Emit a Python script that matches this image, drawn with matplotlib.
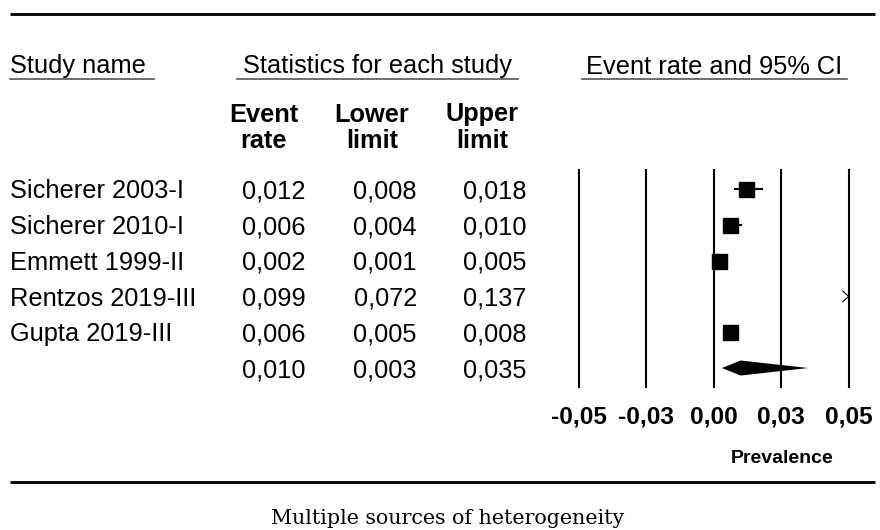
import matplotlib
matplotlib.use("Agg")
import matplotlib.pyplot as plt

# study rows
studies = ["Sicherer 2003-I", "Sicherer 2010-I", "Emmett 1999-II",
           "Rentzos 2019-III", "Gupta 2019-III"]
event_rate = [0.012, 0.006, 0.002, 0.099, 0.006]
lower = [0.008, 0.004, 0.001, 0.072, 0.005]
upper = [0.018, 0.010, 0.005, 0.137, 0.008]

# pooled estimate
pooled = [0.010, 0.003, 0.035]

xticks = [-0.05, -0.025, 0.0, 0.025, 0.05]
xlabels = ["-0,05", "-0,03", "0,00", "0,03", "0,05"]


def fmt(v):
    return ("%.3f" % v).replace(".", ",")


W, H = 880, 530
fig = plt.figure(figsize=(W / 100, H / 100), dpi=100)
plt.rcParams["font.family"] = ["Liberation Sans", "DejaVu Sans"]

# overlay in pixel units for the table and rules
bg = fig.add_axes([0, 0, 1, 1])
bg.set_xlim(0, W)
bg.set_ylim(H, 0)
bg.axis("off")

# rules
bg.plot([10, 875], [13.5, 13.5], color="black", lw=2, solid_capstyle="butt")
bg.plot([10, 875], [482, 482], color="black", lw=2, solid_capstyle="butt")

# column headers with underlines
fs = 18.3
bg.text(10, 73.5, "Study name", fontsize=fs, va="baseline", ha="left")
bg.text(243, 73.5, "Statistics for each study", fontsize=fs, va="baseline", ha="left")
bg.text(586, 73.5, "Event rate and 95% CI", fontsize=fs, va="baseline", ha="left")
for x0, x1 in [(10, 154), (237, 518), (582, 847)]:
    bg.plot([x0, x1], [79, 79], color="#555555", lw=1.2)

col_center = [264, 372, 482]
head1 = ["Event", "Lower", "Upper"]
head2 = ["rate", "limit", "limit"]
for cx, h1, h2 in zip(col_center, head1, head2):
    bg.text(cx, 121.5, h1, fontsize=fs, fontweight="bold", va="baseline", ha="center")
    bg.text(cx, 148, h2, fontsize=fs, fontweight="bold", va="baseline", ha="center")

# table body
row0, step = 198.3, 35.8
col_right = [305.5, 417, 526]
rows = list(zip(event_rate, lower, upper)) + [tuple(pooled)]
for i, vals in enumerate(rows):
    yb = row0 + i * step
    if i < len(studies):
        bg.text(10, yb, studies[i], fontsize=fs, va="baseline", ha="left")
    for xr, v in zip(col_right, vals):
        bg.text(xr, yb, fmt(v), fontsize=fs, va="baseline", ha="right")

# forest plot
ax = fig.add_axes([578.7 / W, 1 - 387 / H, 270 / W, 217 / H])
ax.patch.set_alpha(0)
ax.set_xlim(-0.05, 0.05)
ax.set_ylim(len(studies) + 0.53, -0.53)
for s in ax.spines.values():
    s.set_visible(False)
ax.set_yticks([])
ax.set_xticks(xticks, xlabels)
ax.tick_params(axis="x", length=0, pad=13, labelsize=17.6)
for lab in ax.get_xticklabels():
    lab.set_fontweight("bold")
for t in xticks:
    ax.axvline(t, color="black", lw=1.5, clip_on=False)

xmin, xmax = ax.get_xlim()
for i, (est, lo, hi) in enumerate(zip(event_rate, lower, upper)):
    if lo > xmax:
        # interval lies off scale: arrow at right edge
        d = 0.0022
        ax.plot([xmax - d, xmax, xmax - d], [i - 0.15, i, i + 0.15],
                color="black", lw=0.8, clip_on=False)
        continue
    ax.plot([lo, hi], [i, i], color="black", lw=1.5)
    ax.plot(est, i, marker="s", color="black", ms=10.8)

est, lo, hi = pooled
yp = len(studies)
h = 0.21
ax.fill([lo, est, hi, est], [yp, yp - h, yp, yp + h], color="black", lw=0)

bg.text(781.7, 463.3, "Prevalence", fontsize=14, fontweight="bold",
        va="baseline", ha="center")

fig.text(448 / W, 1 - 524 / H, "Multiple sources of heterogeneity",
         fontsize=14.9, family="DejaVu Serif", ha="center", va="baseline")

fig.savefig("out.png", dpi=100)
